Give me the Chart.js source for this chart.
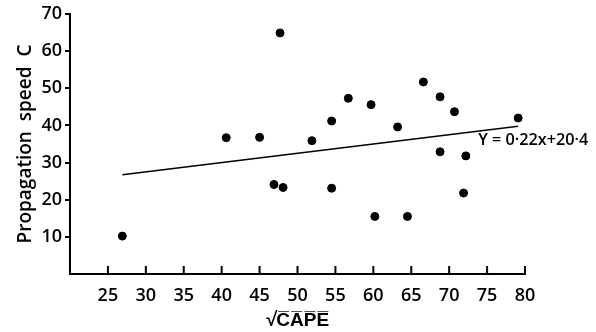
<!DOCTYPE html>
<html>
<head>
<meta charset="utf-8">
<script src="https://cdn.jsdelivr.net/npm/chart.js@4.4.1/dist/chart.umd.min.js"></script>
<style>
  html, body { margin: 0; padding: 0; background: #fff; }
  #wrap { width: 596px; height: 332px; }
</style>
</head>
<body>
<div id="wrap"><canvas id="myChart" width="596" height="332"></canvas></div>
<script>
// sqrt(CAPE) vs propagation speed
const cape = [26.9, 40.6, 45.0, 47.7, 46.9, 48.1, 51.9, 54.5, 56.7, 59.7, 63.2,
              66.6, 68.8, 70.7, 79.1, 68.8, 72.2, 54.5, 60.2, 64.5, 71.9]
const speed = [10.2, 36.7, 36.8, 64.9, 24.1, 23.3, 35.9, 41.2, 47.3, 45.6, 39.6,
               51.7, 47.7, 43.7, 42.0, 32.9, 31.8, 23.1, 15.5, 15.5, 21.8]

// fitted line as drawn
const fitX = [26.9, 79.1]
const fitY = [26.7, 39.8]
const fitLabel = 'Y = 0·22x+20·4'

const xTicks = [25, 30, 35, 40, 45, 50, 55, 60, 65, 70, 75, 80]
const yTicks = [10, 20, 30, 40, 50, 60, 70]

const font = "'Open Sans', sans-serif"

const ctx = document.getElementById('myChart').getContext('2d')

// x ticks point up into the plot, label for the fit sits under the line end
const extras = {
    id: 'extras',
    afterDraw(chart) {
        const { ctx, scales: { x, y } } = chart
        ctx.save()
        ctx.strokeStyle = '#000'
        ctx.lineWidth = 2
        const base = y.getPixelForValue(0)
        xTicks.forEach(v => {
            const px = x.getPixelForValue(v)
            ctx.beginPath()
            ctx.moveTo(px, base)
            ctx.lineTo(px, base - 8)
            ctx.stroke()
        })
        ctx.fillStyle = '#000'
        ctx.font = '600 17px ' + font
        ctx.textBaseline = 'middle'
        const lx = x.getPixelForValue(fitX[1]) - 40
        const ly = y.getPixelForValue(fitY[1]) + 14
        ctx.fillText(fitLabel, lx, ly, 110)
        ctx.restore()
    }
}

const chart = new Chart(ctx, {
    type: 'scatter',
    data: {
        datasets: [{
            data: cape.map((c, i) => ({ x: c, y: speed[i] })),
            backgroundColor: '#000',
            borderColor: '#000',
            pointRadius: 4,
            pointHoverRadius: 4
        }, {
            type: 'line',
            data: fitX.map((c, i) => ({ x: c, y: fitY[i] })),
            borderColor: '#000',
            borderWidth: 1.6,
            pointRadius: 0,
            fill: false
        }]
    },
    options: {
        responsive: false,
        animation: false,
        events: [],
        layout: { padding: { top: 14, right: 71, left: 0, bottom: 0 } },
        plugins: { legend: { display: false }, tooltip: { enabled: false } },
        scales: {
            x: {
                type: 'linear',
                min: 20,
                max: 80,
                afterBuildTicks: s => { s.ticks = [20].concat(xTicks).map(v => ({ value: v })) },
                afterFit: s => { s.height = 58 },
                grid: { display: true, drawOnChartArea: false, drawTicks: false },
                border: { display: true, color: '#000', width: 2 },
                ticks: {
                    color: '#000',
                    font: { family: font, size: 18, weight: '600' },
                    padding: 11,
                    maxRotation: 0,
                    callback: v => v === 20 ? '' : v
                },
                title: {
                    display: true,
                    text: '√C̅A̅P̅E̅',
                    color: '#000',
                    font: { family: font, size: 19, weight: '600' },
                    padding: { top: 0, bottom: 0 }
                }
            },
            y: {
                min: 0,
                max: 70,
                afterBuildTicks: s => { s.ticks = [0].concat(yTicks).map(v => ({ value: v })) },
                afterFit: s => { s.width = 70 },
                grid: {
                    display: true,
                    drawOnChartArea: false,
                    drawTicks: true,
                    tickLength: 5,
                    color: ctx => ctx.tick && ctx.tick.value === 0 ? 'rgba(0,0,0,0)' : '#000',
                    lineWidth: 2
                },
                border: { display: true, color: '#000', width: 2 },
                ticks: {
                    color: '#000',
                    font: { family: font, size: 18, weight: '600' },
                    padding: 3,
                    callback: v => v === 0 ? '' : v
                },
                title: {
                    display: true,
                    text: 'Propagation  speed  C',
                    color: '#000',
                    font: { family: font, size: 19, weight: '600' },
                    padding: { top: 14, bottom: 0 }
                }
            }
        }
    },
    plugins: [extras]
})
</script>
</body>
</html>
